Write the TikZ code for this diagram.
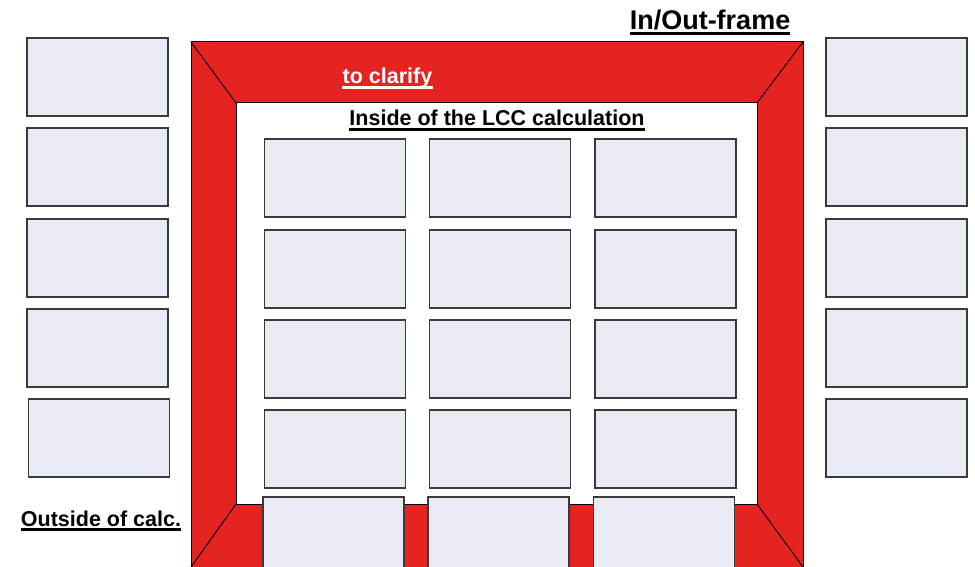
\documentclass[tikz,border=0pt]{standalone}
\usepackage{fontspec}
\setmainfont{Liberation Sans}
\definecolor{frame}{HTML}{E52421}
\definecolor{boxfill}{HTML}{E8EBF3}
\definecolor{boxedge}{HTML}{3A3A3A}
\begin{document}
\begin{tikzpicture}[x=1pt,y=-1pt,
  cell/.style={draw=boxedge,fill=boxfill,line width=1.3pt,minimum width=141pt,minimum height=78pt,inner sep=0pt},
  label/.style={font=\bfseries,inner sep=0pt,anchor=base},
  uline/.style={line width=2.6pt}]
\useasboundingbox (0,0) rectangle (975,567);
\begin{scope}
\clip (0,0) rectangle (975,567);
% red frame
\fill[frame,even odd rule] (191,42) rectangle (803,600) (236,103) rectangle (757,504);
\draw[line width=1pt] (191,42) rectangle (803,600);
\draw[line width=1pt] (236,103) rectangle (757,504);
\coordinate (o1) at (191,42); \coordinate (o2) at (803,42);
\coordinate (o3) at (803,567); \coordinate (o4) at (191,567);
\coordinate (i1) at (236,103); \coordinate (i2) at (757,103);
\coordinate (i3) at (757,504); \coordinate (i4) at (236,504);
\draw[line width=0.9pt] (o1) -- (i1) (o2) -- (i2) (o3) -- (i3) (o4) -- (i4);
% inner grid
\foreach \c/\x in {1/335,2/500,3/665.5}{
  \foreach \r/\y in {1/178,2/269,3/359,4/449}{
    \node[cell] (g\r\c) at (\x,\y) {};
  }
}
\node[cell,minimum height=100pt] (b1) at (333.5,547) {};
\node[cell,minimum height=100pt] (b2) at (498.5,547) {};
\node[cell,minimum height=100pt] (b3) at (664,547) {};
\end{scope}
% outside boxes
\foreach \r/\y in {1/77,2/167,3/258,4/348}{
  \node[cell] (l\r) at (97.5,\y) {};
}
\node[cell] (l5) at (99,438) {};
\foreach \r/\y in {1/77,2/167,3/258,4/348,5/438}{
  \node[cell] (r\r) at (896.5,\y) {};
}
% labels
\node[label,font=\fontsize{27}{31}\selectfont\bfseries] (tio) at (710,30) {In/Out-frame};
\draw[uline,line width=3pt] ([yshift=-3.5pt]tio.base west) -- ([yshift=-3.5pt]tio.base east);
\node[label,text=white,font=\fontsize{21.5}{25}\selectfont\bfseries] (tcl) at (387.5,84) {to clarify};
\draw[uline,white] ([yshift=-3.5pt]tcl.base west) -- ([yshift=-3.5pt]tcl.base east);
\node[label,font=\fontsize{21.5}{25}\selectfont\bfseries] (tin) at (497,126) {Inside of the LCC calculation};
\draw[uline] ([yshift=-3.5pt]tin.base west) -- ([yshift=-3.5pt]tin.base east);
\node[label,font=\fontsize{21.5}{25}\selectfont\bfseries] (tout) at (101,526) {Outside of calc.};
\draw[uline] ([yshift=-3.5pt]tout.base west) -- ([yshift=-3.5pt]tout.base east);
\end{tikzpicture}
\end{document}
